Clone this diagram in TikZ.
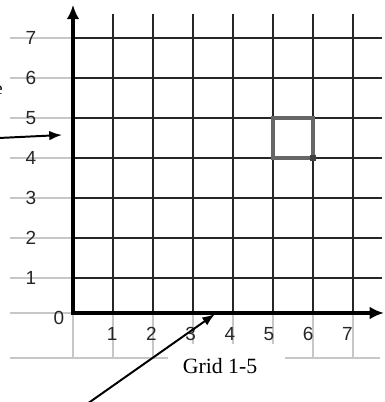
\documentclass[tikz,border=0pt]{standalone}
\usepackage{fontspec}
\setmainfont{Liberation Sans}
\newfontfamily\capfont{Liberation Serif}
\usepackage{tikz}
\usetikzlibrary{arrows.meta, positioning}

\begin{document}
\begin{tikzpicture}[x=1cm, y=1cm,
    gridline/.style={line width=1.3pt, black!85},
    guide/.style={line width=0.9pt, black!22},
    axisline/.style={line width=3.2pt, line join=miter, {Latex[length=3.6mm, width=3.2mm]}-{Latex[length=3.6mm, width=3.2mm]}},
    pointer/.style={line width=1.4pt, -{Latex[length=3.2mm, width=2.4mm]}},
    num/.style={font=\fontsize{13.5}{15}\selectfont, inner sep=1pt, text=black!85}]
\useasboundingbox (-1.825,-2.1) rectangle (7.775,7.95);

% light guide lines
\foreach \y in {1,...,7} \draw[guide] (-1.575,\y) -- (0,\y);
\draw[guide] (-1.575,0.125) -- (0,0.125);
\foreach \x in {0,1,2,6,7} \draw[guide] (\x,0.125) -- (\x,-1);
\foreach \x in {3,4,5} \draw[guide] (\x,0.125) -- (\x,-0.65);
\draw[guide] (-1.575,-1) -- (2.375,-1);
\draw[guide] (5.3,-1) -- (7.675,-1);

% grid
\draw[gridline] (0,0.125) grid (7.73,7.6);
\draw[line width=2.2pt, black!60] (5,4) rectangle (6,5);
\node[fill=black!75, inner sep=0pt, minimum size=1.4mm] (mark) at (6,4) {};

% axes
\draw[axisline] (0,7.83) -- (0,0.125) -- (7.775,0.125);

% labels
\node[num] (orig) at (-0.35,0) {0};
\foreach \y in {1,...,7} \node[num] (ylab\y) at (-1.05,\y) {\y};
\foreach \x in {1,...,7} \node[num] (xlab\x) at (\x-0.02*\x,-0.4) {\x};
\node[font=\capfont\fontsize{15.5}{17}\selectfont] (caption) at (3.675,-1.2) {Grid 1-5};
\node[font=\capfont\fontsize{13}{15}\selectfont, anchor=east, inner sep=0pt] (cut) at (-1.75,5.7) {e};

% pointers
\coordinate (leftend) at (-1.85,4.5);
\coordinate (lefttip) at (-0.275,4.575);
\draw[pointer] (leftend) -- (lefttip);
\coordinate (lowend) at (0.35,-2.15);
\coordinate (lowtip) at (3.55,0.1);
\draw[pointer] (lowend) -- (lowtip);
\end{tikzpicture}
\end{document}
